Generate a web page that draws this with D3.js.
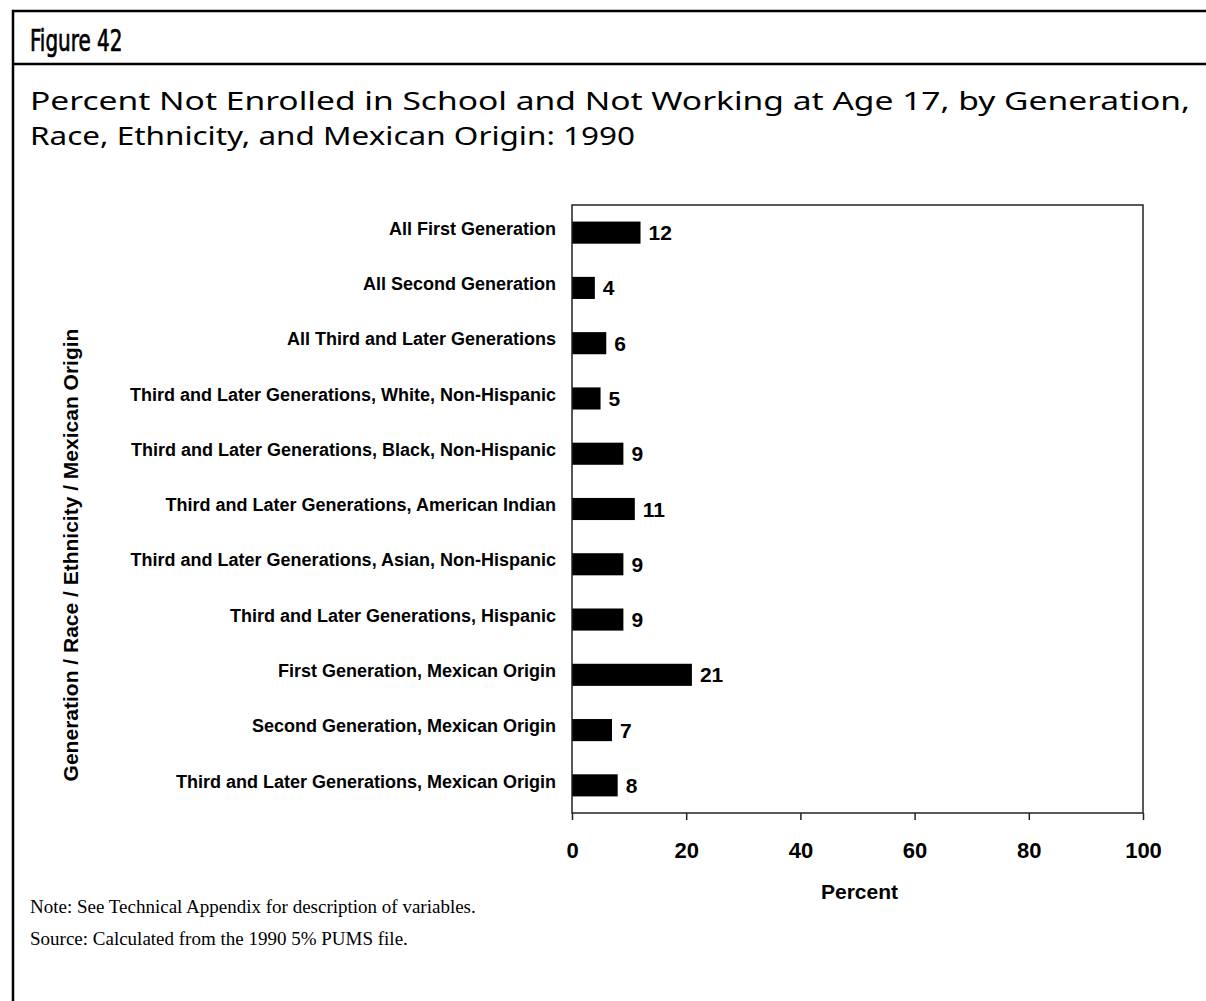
<!DOCTYPE html>
<html>
<head>
<meta charset="utf-8">
<script src="https://d3js.org/d3.v7.min.js"></script>
<style>
  body { margin: 0; background: #fff; }
  svg { display: block; }
  .cat { font-family: 'Liberation Sans', Arial, sans-serif; font-weight: bold; font-size: 18px; fill: #000; }
  .val { font-family: 'Liberation Sans', Arial, sans-serif; font-weight: bold; font-size: 21px; fill: #000; }
  .tick text { font-family: 'Liberation Sans', Arial, sans-serif; font-weight: bold; font-size: 22px; fill: #000; }
  .axis-title { font-family: 'Liberation Sans', Arial, sans-serif; font-weight: bold; font-size: 21px; fill: #000; }
  .fig-label { font-family: 'Liberation Sans Narrow', 'DejaVu Sans Condensed', sans-serif; font-size: 30px; fill: #000; stroke: #000; stroke-width: 0.7px; }
  .title { font-family: 'Noto Sans', 'Lato', sans-serif; font-size: 25px; fill: #000; }
  .note { font-family: 'Liberation Serif', 'Times New Roman', serif; font-size: 19px; fill: #000; }
</style>
</head>
<body>
<svg width="1206" height="1001"></svg>
<script>
// data
const categories = [
  "All First Generation",
  "All Second Generation",
  "All Third and Later Generations",
  "Third and Later Generations, White, Non-Hispanic",
  "Third and Later Generations, Black, Non-Hispanic",
  "Third and Later Generations, American Indian",
  "Third and Later Generations, Asian, Non-Hispanic",
  "Third and Later Generations, Hispanic",
  "First Generation, Mexican Origin",
  "Second Generation, Mexican Origin",
  "Third and Later Generations, Mexican Origin"
];
const values = [12, 4, 6, 5, 9, 11, 9, 9, 21, 7, 8];
const xTicks = [0, 20, 40, 60, 80, 100];

const titleLines = [
  "Percent Not Enrolled in School and Not Working at Age 17, by Generation,",
  "Race, Ethnicity, and Mexican Origin: 1990"
];
const notes = [
  "Note: See Technical Appendix for description of variables.",
  "Source: Calculated from the 1990 5% PUMS file."
];

const svg = d3.select("svg");

// outer frame
svg.append("path")
  .attr("d", "M13,1001 L13,11 L1206,11")
  .attr("fill", "none").attr("stroke", "#000").attr("stroke-width", 2.5);
svg.append("line")
  .attr("x1", 13).attr("x2", 1206).attr("y1", 64).attr("y2", 64)
  .attr("stroke", "#000").attr("stroke-width", 2.5);

// condensed figure label
svg.append("text").attr("class", "fig-label")
  .attr("transform", "translate(30,51) scale(0.74,1)")
  .text("Figure 42");

const titleWidths = [1160, 605];
svg.append("g").selectAll("text")
  .data(titleLines).enter().append("text")
  .attr("class", "title")
  .attr("x", 30)
  .attr("y", (d, i) => 110 + i * 35)
  .attr("textLength", (d, i) => titleWidths[i])
  .attr("lengthAdjust", "spacingAndGlyphs")
  .text(d => d);

svg.append("g").selectAll("text")
  .data(notes).enter().append("text")
  .attr("class", "note")
  .attr("x", 30)
  .attr("y", (d, i) => 913 + i * 32)
  .text(d => d);

// plot area
const plot = { left: 572, right: 1143, top: 205, bottom: 813 };

const x = d3.scaleLinear().domain([0, 100]).range([plot.left, plot.right]);
const y = d3.scaleBand().domain(categories).range([plot.top, plot.bottom]).paddingInner(0.6).paddingOuter(0.3);

// bars
svg.append("g").selectAll("rect")
  .data(values).enter().append("rect")
  .attr("x", x(0))
  .attr("y", (d, i) => y(categories[i]))
  .attr("width", d => x(d) - x(0))
  .attr("height", y.bandwidth())
  .attr("fill", "#000");

// value labels
svg.append("g").selectAll("text")
  .data(values).enter().append("text")
  .attr("class", "val")
  .attr("x", d => x(d) + 8)
  .attr("y", (d, i) => y(categories[i]) + y.bandwidth() / 2)
  .attr("dy", "0.36em")
  .text(d => d);

// category labels
svg.append("g").selectAll("text")
  .data(categories).enter().append("text")
  .attr("class", "cat")
  .attr("x", plot.left - 16)
  .attr("y", d => y(d) + y.bandwidth() / 2)
  .attr("dy", "0.12em")
  .attr("text-anchor", "end")
  .text(d => d);

// frame
svg.append("rect")
  .attr("x", plot.left).attr("y", plot.top)
  .attr("width", plot.right - plot.left).attr("height", plot.bottom - plot.top)
  .attr("fill", "none").attr("stroke", "#222").attr("stroke-width", 1.5);

// x axis
const xAxis = svg.append("g")
  .attr("class", "x-axis")
  .attr("transform", `translate(0,${plot.bottom})`)
  .call(d3.axisBottom(x).tickValues(xTicks).tickSize(7).tickPadding(22));
xAxis.select(".domain").remove();
xAxis.selectAll(".tick line").attr("stroke", "#222").attr("stroke-width", 1.5);

svg.append("text").attr("class", "axis-title")
  .attr("x", (plot.left + plot.right) / 2 + 2).attr("y", 899)
  .attr("text-anchor", "middle").text("Percent");

svg.append("text").attr("class", "axis-title")
  .attr("transform", `translate(78,${(plot.top + plot.bottom) / 2 + 46}) rotate(-90)`)
  .attr("text-anchor", "middle").text("Generation / Race / Ethnicity / Mexican Origin");
</script>
</body>
</html>
